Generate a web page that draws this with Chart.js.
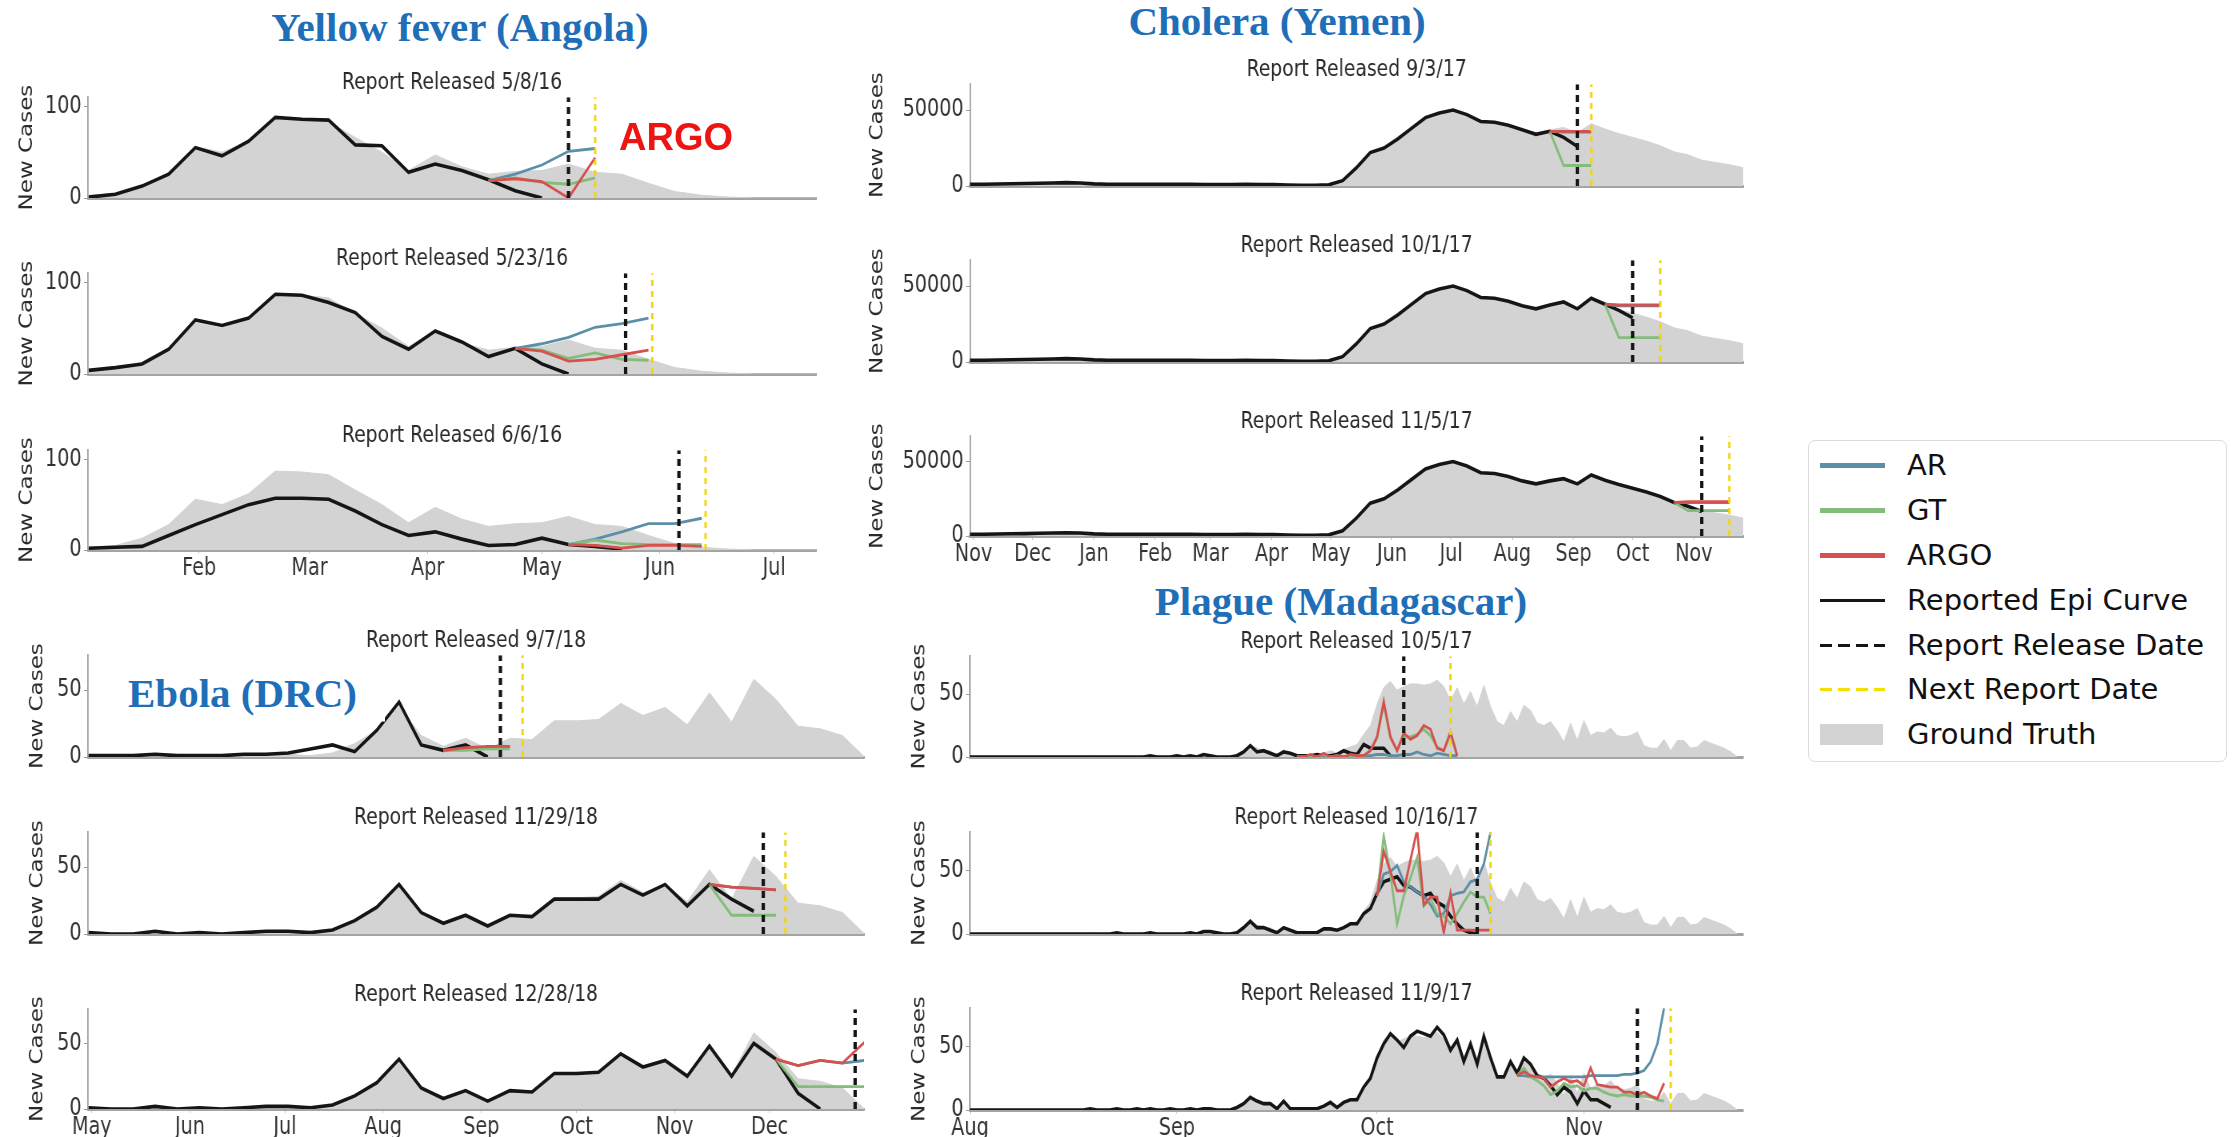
<!DOCTYPE html>
<html>
<head>
<meta charset="utf-8">
<script src="https://cdn.jsdelivr.net/npm/chart.js@4.4.1/dist/chart.umd.min.js"></script>
<style>
  body { margin: 0; background: #fff; width: 2238px; height: 1137px; position: relative; overflow: hidden; font-family: 'DejaVu Sans', sans-serif; }
  canvas { position: absolute; transform-origin: 0 0; }
  .disease { position: absolute; z-index: 10; font-family: 'Liberation Serif', serif; font-weight: bold; font-size: 41px; color: #1f6fb8; white-space: nowrap; line-height: 1; transform: translate(-50%, -50%); }
  #ebola { transform: translate(0, -50%); background: #fff; padding: 6px 28px 8px 2px; left: 126px; top: 694px; }
  #argo { position: absolute; z-index: 10; left: 676px; top: 137px; transform: translate(-50%, -50%); font-family: 'Liberation Sans', sans-serif; font-weight: bold; font-size: 38px; color: #ee1414; line-height: 1; }
  #legend { position: absolute; z-index: 10; left: 1808px; top: 440px; width: 419px; height: 322px; border: 1.5px solid #dcdcdc; border-radius: 7px; box-sizing: border-box; }
  .item { position: absolute; left: 0; height: 0; }
  .sw { position: absolute; left: 11px; width: 65px; }
  .lab { position: absolute; left: 98px; top: -18px; font-size: 29px; line-height: 36px; color: #111; white-space: nowrap; }
</style>
</head>
<body>
<div class="disease" style="left:460px; top:27px;">Yellow fever (Angola)</div>
<div class="disease" style="left:1277px; top:21px;">Cholera (Yemen)</div>
<div class="disease" style="left:1341px; top:601px;">Plague (Madagascar)</div>
<div class="disease" id="ebola">Ebola (DRC)</div>
<div id="argo">ARGO</div>
<div id="legend">
  <div class="item" style="top:24px"><div class="sw" style="height:5px; top:-2px; background:#5b8fa8"></div><div class="lab">AR</div></div>
  <div class="item" style="top:69px"><div class="sw" style="height:5px; top:-2px; background:#84bc7b"></div><div class="lab">GT</div></div>
  <div class="item" style="top:114px"><div class="sw" style="height:5px; top:-2px; background:#d6504e"></div><div class="lab">ARGO</div></div>
  <div class="item" style="top:159px"><div class="sw" style="height:3px; top:-1px; background:#151515"></div><div class="lab">Reported Epi Curve</div></div>
  <div class="item" style="top:204px"><div class="sw" style="height:3px; top:-1px; background:repeating-linear-gradient(90deg,#151515 0 12px,transparent 12px 18px)"></div><div class="lab">Report Release Date</div></div>
  <div class="item" style="top:248px"><div class="sw" style="height:3px; top:-1px; background:repeating-linear-gradient(90deg,#f3e000 0 12px,transparent 12px 18px)"></div><div class="lab">Next Report Date</div></div>
  <div class="item" style="top:293px"><div class="sw" style="height:21px; top:-10px; width:63px; background:#d3d3d3"></div><div class="lab">Ground Truth</div></div>
</div>
<script>
// ---- Yellow fever (Angola), weekly, days since Jan 1 2016
const yfStart = 2;
const yfMonthDays = [31, 60, 91, 121, 152, 182];
const yfMonthLabels = ['Feb', 'Mar', 'Apr', 'May', 'Jun', 'Jul'];
const yfTruth = [3, 5, 13, 28, 56, 50, 62, 87, 86, 83, 66, 50, 30, 47, 34, 26, 29, 30, 37, 28, 26, 16, 7, 3, 1, 0, 0, 0, 0];
const yfEpi1 = [1, 4, 13, 26, 55, 46, 62, 88, 86, 85, 58, 57, 28, 37, 30, 20, 8, 0];
const yfEpi2 = [4, 7, 11, 27, 59, 53, 61, 87, 86, 78, 67, 41, 27, 47, 35, 19, 28, 11, 0];
const yfEpi3 = [2, 3, 4, 16, 28, 39, 50, 57, 57, 56, 43, 28, 16, 20, 12, 5, 6, 13, 6, 4, 1];
const yfRelease = [128, 143, 157];
const yfNext = [135, 150, 164];
const yfFcStart = [107, 114, 128];
const yfAR1 = [19, 26, 36, 51, 54];
const yfGT1 = [19, 22, 17, 15, 22];
const yfARGO1 = [19, 21, 18, 0, 44];
const yfAR2 = [28, 33, 40, 51, 55, 61];
const yfGT2 = [28, 26, 17, 23, 16, 15];
const yfARGO2 = [28, 25, 14, 16, 21, 26];
const yfAR3 = [6, 12, 20, 29, 29, 35];
const yfGT3 = [6, 11, 7, 6, 6, 6];
const yfARGO3 = [6, 5, 2, 5, 5, 4];

// ---- Cholera (Yemen), weekly, days since Nov 1 2016
const chStart = -2;
const chMonthDays = [0, 30, 61, 92, 120, 151, 181, 212, 242, 273, 304, 334, 365];
const chMonthLabels = ['Nov', 'Dec', 'Jan', 'Feb', 'Mar', 'Apr', 'May', 'Jun', 'Jul', 'Aug', 'Sep', 'Oct', 'Nov'];
const chTruth = [1200, 1200, 1300, 1500, 1600, 1800, 2000, 2200, 2000, 1400, 1200, 1100, 1100, 1100, 1200, 1200, 1100, 1000, 1000, 1000,
  1100, 1000, 900, 600, 500, 500, 800, 3500, 12000, 22000, 25000, 31000, 38000, 45000, 48000, 50000, 47000, 42500, 42000, 40000,
  37000, 35000, 37000, 38500, 35000, 41000, 37500, 34500, 32000, 29500, 26500, 22500, 20500, 17000, 15500, 14000, 12000];
const chEpi1 = [1200, 1200, 1300, 1500, 1600, 1800, 2000, 2200, 2000, 1400, 1200, 1100, 1100, 1100, 1200, 1200, 1100, 1000, 1000, 1000,
  1100, 1000, 900, 600, 500, 500, 800, 3500, 12000, 22000, 25000, 31000, 38000, 45000, 48000, 50000, 47000, 42500, 42000, 40000,
  37000, 34000, 36000, 32000, 26000];
const chEpi2 = [1200, 1200, 1300, 1500, 1600, 1800, 2000, 2200, 2000, 1400, 1200, 1100, 1100, 1100, 1200, 1200, 1100, 1000, 1000, 1000,
  1100, 1000, 900, 600, 500, 500, 800, 3500, 12000, 22000, 25000, 31000, 38000, 45000, 48000, 50000, 47000, 42500, 42000, 40000,
  37000, 35000, 37500, 39500, 35000, 42000, 38000, 34000, 29000];
const chEpi3 = [1200, 1200, 1300, 1500, 1600, 1800, 2000, 2200, 2000, 1400, 1200, 1100, 1100, 1100, 1200, 1200, 1100, 1000, 1000, 1000,
  1100, 1000, 900, 600, 500, 500, 800, 3500, 12000, 22000, 25000, 31000, 38000, 45000, 48000, 50000, 47000, 42500, 42000, 40000,
  37000, 35000, 37000, 38500, 35000, 41000, 37500, 34500, 32000, 29500, 26500, 22500, 20000, 16500];
const chRelease = [306, 334, 369];
const chNext = [313, 348, 383];
const chFcStart = [292, 320, 355];
const chAR1 = [36000, 35500, 35500, 35500];
const chGT1 = [36000, 13500, 13500, 13500];
const chARGO1 = [36000, 36000, 36000, 36000];
const chAR2 = [38000, 37000, 37000, 37000, 37000];
const chGT2 = [38000, 16000, 16000, 16000, 16000];
const chARGO2 = [38000, 37500, 37500, 37500, 37500];
const chAR3 = [22500, 22500, 22500, 22500, 22500];
const chGT3 = [22500, 17000, 17000, 17000, 17000];
const chARGO3 = [22500, 23000, 23000, 23000, 23000];

// ---- Ebola (DRC), weekly, days since May 1 2018
const ebStart = -1;
const ebMonthDays = [0, 31, 61, 92, 123, 153, 184, 214];
const ebMonthLabels = ['May', 'Jun', 'Jul', 'Aug', 'Sep', 'Oct', 'Nov', 'Dec'];
const ebTruth = [1, 0, 0, 2, 0, 1, 0, 1, 2, 2, 1, 3, 10, 20, 38, 16, 8, 14, 6, 14, 13, 27, 27, 28, 40, 31, 37, 24, 48, 26, 58, 43, 23, 21, 16, 0];
const ebEpi1 = [1, 1, 1, 2, 1, 1, 1, 2, 2, 3, 6, 9, 4, 20, 41, 9, 5, 9, 0];
const ebEpi2 = [1, 0, 0, 2, 0, 1, 0, 1, 2, 2, 1, 3, 10, 20, 37, 16, 8, 14, 6, 14, 13, 26, 26, 26, 37, 29, 37, 21, 37, 26, 17];
const ebEpi3 = [1, 0, 0, 2, 0, 1, 0, 1, 2, 2, 1, 3, 10, 20, 38, 16, 8, 14, 6, 14, 13, 27, 27, 28, 42, 32, 37, 25, 48, 25, 50, 38, 12, 0];
const ebRelease = [129, 212, 241];
const ebNext = [136, 219, 248];
const ebFcStart = [111, 195, 216];
const ebAR1 = [5, 6, 7, 7];
const ebGT1 = [5, 5, 6, 6];
const ebARGO1 = [5, 7, 8, 8];
const ebAR2 = [37, 35, 34, 33];
const ebGT2 = [37, 14, 14, 14];
const ebARGO2 = [37, 35, 34, 33];
const ebAR3 = [38, 33, 37, 35, 37];
const ebGT3 = [38, 17, 17, 17, 17];
const ebARGO3 = [38, 33, 37, 35, 51];

// ---- Plague (Madagascar), daily, days since Aug 1 2017
const plStart = 0;
const plMonthDays = [0, 31, 61, 92];
const plMonthLabels = ['Aug', 'Sep', 'Oct', 'Nov'];
const plTruth = [0, 0, 0, 0, 0, 0, 0, 0, 0, 0,
  0, 0, 0, 0, 0, 0, 0, 0, 1, 0,
  0, 0, 1, 0, 0, 0, 1, 0, 1, 0,
  0, 1, 0, 1, 0, 2, 1, 0, 0, 0,
  2, 5, 10, 7, 5, 5, 1, 6, 1, 1,
  1, 1, 1, 3, 5, 3, 6, 8, 10, 18,
  25, 42, 55, 60, 53, 56, 58, 58, 57, 58,
  61, 56, 45, 55, 42, 52, 40, 57, 40, 28,
  25, 36, 28, 41, 37, 27, 25, 28, 21, 12,
  27, 13, 29, 17, 20, 19, 23, 17, 16, 17,
  20, 9, 7, 7, 14, 5, 13, 13, 7, 8,
  13, 11, 9, 7, 4, 0];
const plEpi1 = [0, 0, 0, 0, 0, 0, 0, 0, 0, 0,
  0, 0, 0, 0, 0, 0, 0, 0, 0, 0,
  0, 0, 0, 0, 0, 0, 0, 1, 0, 0,
  0, 1, 0, 1, 0, 2, 1, 0, 0, 0,
  1, 4, 9, 4, 5, 3, 1, 4, 3, 1,
  1, 1, 2, 1, 1, 2, 5, 3, 2, 10,
  7, 7, 7, 1];
const plEpi2 = [0, 0, 0, 0, 0, 0, 0, 0, 0, 0,
  0, 0, 0, 0, 0, 0, 0, 0, 0, 0,
  0, 0, 1, 0, 0, 0, 0, 1, 0, 0,
  0, 0, 0, 1, 0, 2, 2, 1, 0, 0,
  1, 5, 10, 5, 5, 3, 1, 5, 3, 1,
  1, 1, 1, 4, 4, 3, 5, 8, 8, 16,
  20, 32, 41, 43, 45, 38, 37, 33, 30, 32,
  25, 22, 14, 8, 3, 1, 0];
const plEpi3 = [0, 0, 0, 0, 0, 0, 0, 0, 0, 0,
  0, 0, 0, 0, 0, 0, 0, 0, 1, 0,
  0, 0, 1, 0, 0, 1, 0, 1, 0, 0,
  1, 0, 0, 1, 0, 1, 1, 0, 0, 0,
  2, 5, 10, 7, 5, 5, 1, 7, 1, 1,
  1, 1, 1, 3, 6, 2, 6, 8, 8, 18,
  25, 41, 52, 60, 55, 49, 58, 62, 60, 58,
  65, 59, 47, 55, 38, 52, 36, 58, 41, 26,
  26, 38, 29, 41, 36, 27, 25, 19, 12, 18,
  14, 5, 15, 8, 8, 5, 2];
const plRelease = [65, 76, 100];
const plNext = [72, 78, 105];
const plFcStart = [49, 61, 82];
const plAR1 = [0, 0, 0, 0, 1, 0, 0, 0, 1, 1, 1, 1, 2, 2, 1, 1, 2, 2, 4, 2, 1, 3, 2, 1, 1];
const plGT1 = [0, 0, 1, 0, 2, 0, 1, 0, 1, 1, 1, 5, 15, 42, 15, 5, 16, 16, 18, 22, 17, 8, 5, 18, 1];
const plARGO1 = [0, 0, 2, 0, 3, 0, 1, 0, 2, 1, 1, 5, 16, 44, 16, 5, 19, 14, 17, 25, 22, 7, 5, 20, 1];
const plAR2 = [30, 47, 49, 54, 41, 37, 33, 30, 23, 14, 16, 30, 32, 33, 41, 43, 55, 80];
const plGT2 = [30, 77, 47, 8, 30, 44, 60, 22, 28, 16, 14, 8, 16, 25, 33, 29, 29, 16];
const plARGO2 = [30, 65, 49, 34, 34, 58, 82, 23, 29, 29, 1, 32, 3, 3, 3, 3, 3, 3];
const plAR3 = [27, 27, 26, 26, 26, 26, 26, 26, 26, 26, 26, 27, 27, 27, 27, 27, 28, 28, 29, 31, 38, 52, 80];
const plGT3 = [27, 33, 26, 23, 19, 12, 15, 21, 18, 19, 15, 17, 17, 14, 12, 11, 12, 11, 11, 11, 10, 8, 7];
const plARGO3 = [27, 30, 27, 26, 25, 18, 22, 25, 22, 23, 19, 33, 20, 19, 18, 18, 14, 14, 12, 14, 11, 9, 21];

const AR_COLOR = '#5b8fa8';
const GT_COLOR = '#84bc7b';
const ARGO_COLOR = '#d6504e';

// the original figure is squeezed sideways, so every panel is drawn wider and scaled back
const SX = 0.8;

Chart.defaults.font.family = "'DejaVu Sans', sans-serif";

function series(start, step, vals) {
  return vals.map((v, i) => ({ x: start + step * i, y: v }));
}

function panel(p) {
  const xh = p.bottom ? 36 : 18;
  const top = p.top - 28;
  const canvas = document.createElement('canvas');
  canvas.width = Math.round((p.yw + p.plotW) / SX + 10);
  canvas.height = p.base - top + xh;
  canvas.style.left = p.left + 'px';
  canvas.style.top = top + 'px';
  canvas.style.transform = 'scaleX(' + SX + ')';
  document.body.appendChild(canvas);

  const vline = (d, color, dash, w) => ({
    data: [{ x: d, y: 0 }, { x: d, y: p.yMax }], borderColor: color, borderDash: dash, borderWidth: w
  });
  const fcLine = (vals, color) => ({ data: series(p.fc, p.step, vals), borderColor: color, borderWidth: 2.8 });

  new Chart(canvas, {
    type: 'line',
    data: {
      datasets: [
        vline(p.release, '#151515', [7, 5], 4.2),
        vline(p.next, '#f3d60d', [6, 5], 3),
        fcLine(p.argo, ARGO_COLOR),
        fcLine(p.gt, GT_COLOR),
        fcLine(p.ar, AR_COLOR),
        { data: series(p.start, p.step, p.epi), borderColor: '#151515', borderWidth: 3.6 },
        { data: series(p.start, p.step, p.truth), fill: 'origin', backgroundColor: '#d3d3d3', borderColor: '#d3d3d3', borderWidth: 1 }
      ]
    },
    options: {
      responsive: false,
      animation: false,
      devicePixelRatio: 1,
      layout: { padding: { left: 0, right: 10, top: 0, bottom: 0 } },
      elements: { point: { radius: 0 }, line: { tension: 0 } },
      plugins: {
        legend: { display: false },
        tooltip: { enabled: false },
        title: {
          display: true, text: p.title, fullSize: false, color: '#2a2a2a',
          font: { size: 23.5, weight: 'normal', lineHeight: 1.2 }, padding: { top: 0, bottom: 0 }
        }
      },
      scales: {
        x: {
          type: 'linear', min: p.xMin, max: p.xMax,
          afterBuildTicks: s => { s.ticks = p.months.map(v => ({ value: v })); },
          afterFit: s => { s.height = xh; },
          ticks: {
            display: p.bottom, autoSkip: false, maxRotation: 0, padding: 0, color: '#333',
            font: { size: 24 }, callback: v => p.labels[p.months.indexOf(v)]
          },
          grid: { display: p.bottom, drawOnChartArea: false, tickLength: 4, color: '#c4c4c4' },
          border: { display: true, color: '#a4a4a4', width: 3 }
        },
        y: {
          min: 0, max: p.yMax,
          afterBuildTicks: s => { s.ticks = p.yTicks.map(v => ({ value: v })); },
          afterFit: s => { s.width = p.yw / SX; },
          ticks: { padding: 3, color: '#333', font: { size: 24 }, callback: v => String(v) },
          grid: { drawOnChartArea: false, tickLength: 5, color: '#999' },
          border: { display: true, color: '#a0a0a0', width: 1.8 },
          title: { display: true, text: 'New Cases', color: '#2a2a2a', font: { size: 23 }, padding: { top: p.labelX / SX - 13.8, bottom: 0 } }
        }
      }
    }
  });
}

const YF = { left: 0, yw: 88, plotW: 728, labelX: 27, xMin: 1.8, xMax: 193, yMax: 110, yTicks: [0, 100], months: yfMonthDays, labels: yfMonthLabels, step: 7, start: yfStart, truth: yfTruth };
const CH = { left: 860, yw: 110, plotW: 773, labelX: 18, xMin: -1.8, xMax: 390, yMax: 67000, yTicks: [0, 50000], months: chMonthDays, labels: chMonthLabels, step: 7, start: chStart, truth: chTruth };
const EB = { left: 0, yw: 88, plotW: 776, labelX: 38, xMin: -1.2, xMax: 243.8, yMax: 76, yTicks: [0, 50], months: ebMonthDays, labels: ebMonthLabels, step: 7, start: ebStart, truth: ebTruth };
const PL = { left: 882, yw: 88, plotW: 773, labelX: 38, xMin: 0, xMax: 115.8, yMax: 80, yTicks: [0, 50], months: plMonthDays, labels: plMonthLabels, step: 1, start: plStart, truth: plTruth };

panel({ ...YF, top: 97, base: 198, bottom: false, title: 'Report Released 5/8/16', epi: yfEpi1, ar: yfAR1, gt: yfGT1, argo: yfARGO1, fc: yfFcStart[0], release: yfRelease[0], next: yfNext[0] });
panel({ ...YF, top: 273, base: 374, bottom: false, title: 'Report Released 5/23/16', epi: yfEpi2, ar: yfAR2, gt: yfGT2, argo: yfARGO2, fc: yfFcStart[1], release: yfRelease[1], next: yfNext[1] });
panel({ ...YF, top: 450, base: 550, bottom: true, title: 'Report Released 6/6/16', epi: yfEpi3, ar: yfAR3, gt: yfGT3, argo: yfARGO3, fc: yfFcStart[2], release: yfRelease[2], next: yfNext[2] });

panel({ ...CH, top: 84, base: 186, bottom: false, title: 'Report Released 9/3/17', epi: chEpi1, ar: chAR1, gt: chGT1, argo: chARGO1, fc: chFcStart[0], release: chRelease[0], next: chNext[0] });
panel({ ...CH, top: 260, base: 362, bottom: false, title: 'Report Released 10/1/17', epi: chEpi2, ar: chAR2, gt: chGT2, argo: chARGO2, fc: chFcStart[1], release: chRelease[1], next: chNext[1] });
panel({ ...CH, top: 436, base: 536, bottom: true, title: 'Report Released 11/5/17', epi: chEpi3, ar: chAR3, gt: chGT3, argo: chARGO3, fc: chFcStart[2], release: chRelease[2], next: chNext[2] });

panel({ ...EB, top: 655, base: 757, bottom: false, title: 'Report Released 9/7/18', epi: ebEpi1, ar: ebAR1, gt: ebGT1, argo: ebARGO1, fc: ebFcStart[0], release: ebRelease[0], next: ebNext[0] });
panel({ ...EB, top: 832, base: 934, bottom: false, title: 'Report Released 11/29/18', epi: ebEpi2, ar: ebAR2, gt: ebGT2, argo: ebARGO2, fc: ebFcStart[1], release: ebRelease[1], next: ebNext[1] });
panel({ ...EB, top: 1009, base: 1109, bottom: true, title: 'Report Released 12/28/18', epi: ebEpi3, ar: ebAR3, gt: ebGT3, argo: ebARGO3, fc: ebFcStart[2], release: ebRelease[2], next: ebNext[2] });

panel({ ...PL, top: 656, base: 757, bottom: false, title: 'Report Released 10/5/17', epi: plEpi1, ar: plAR1, gt: plGT1, argo: plARGO1, fc: plFcStart[0], release: plRelease[0], next: plNext[0] });
panel({ ...PL, top: 832, base: 934, bottom: false, title: 'Report Released 10/16/17', epi: plEpi2, ar: plAR2, gt: plGT2, argo: plARGO2, fc: plFcStart[1], release: plRelease[1], next: plNext[1] });
panel({ ...PL, top: 1008, base: 1110, bottom: true, title: 'Report Released 11/9/17', epi: plEpi3, ar: plAR3, gt: plGT3, argo: plARGO3, fc: plFcStart[2], release: plRelease[2], next: plNext[2] });
</script>
</body>
</html>
